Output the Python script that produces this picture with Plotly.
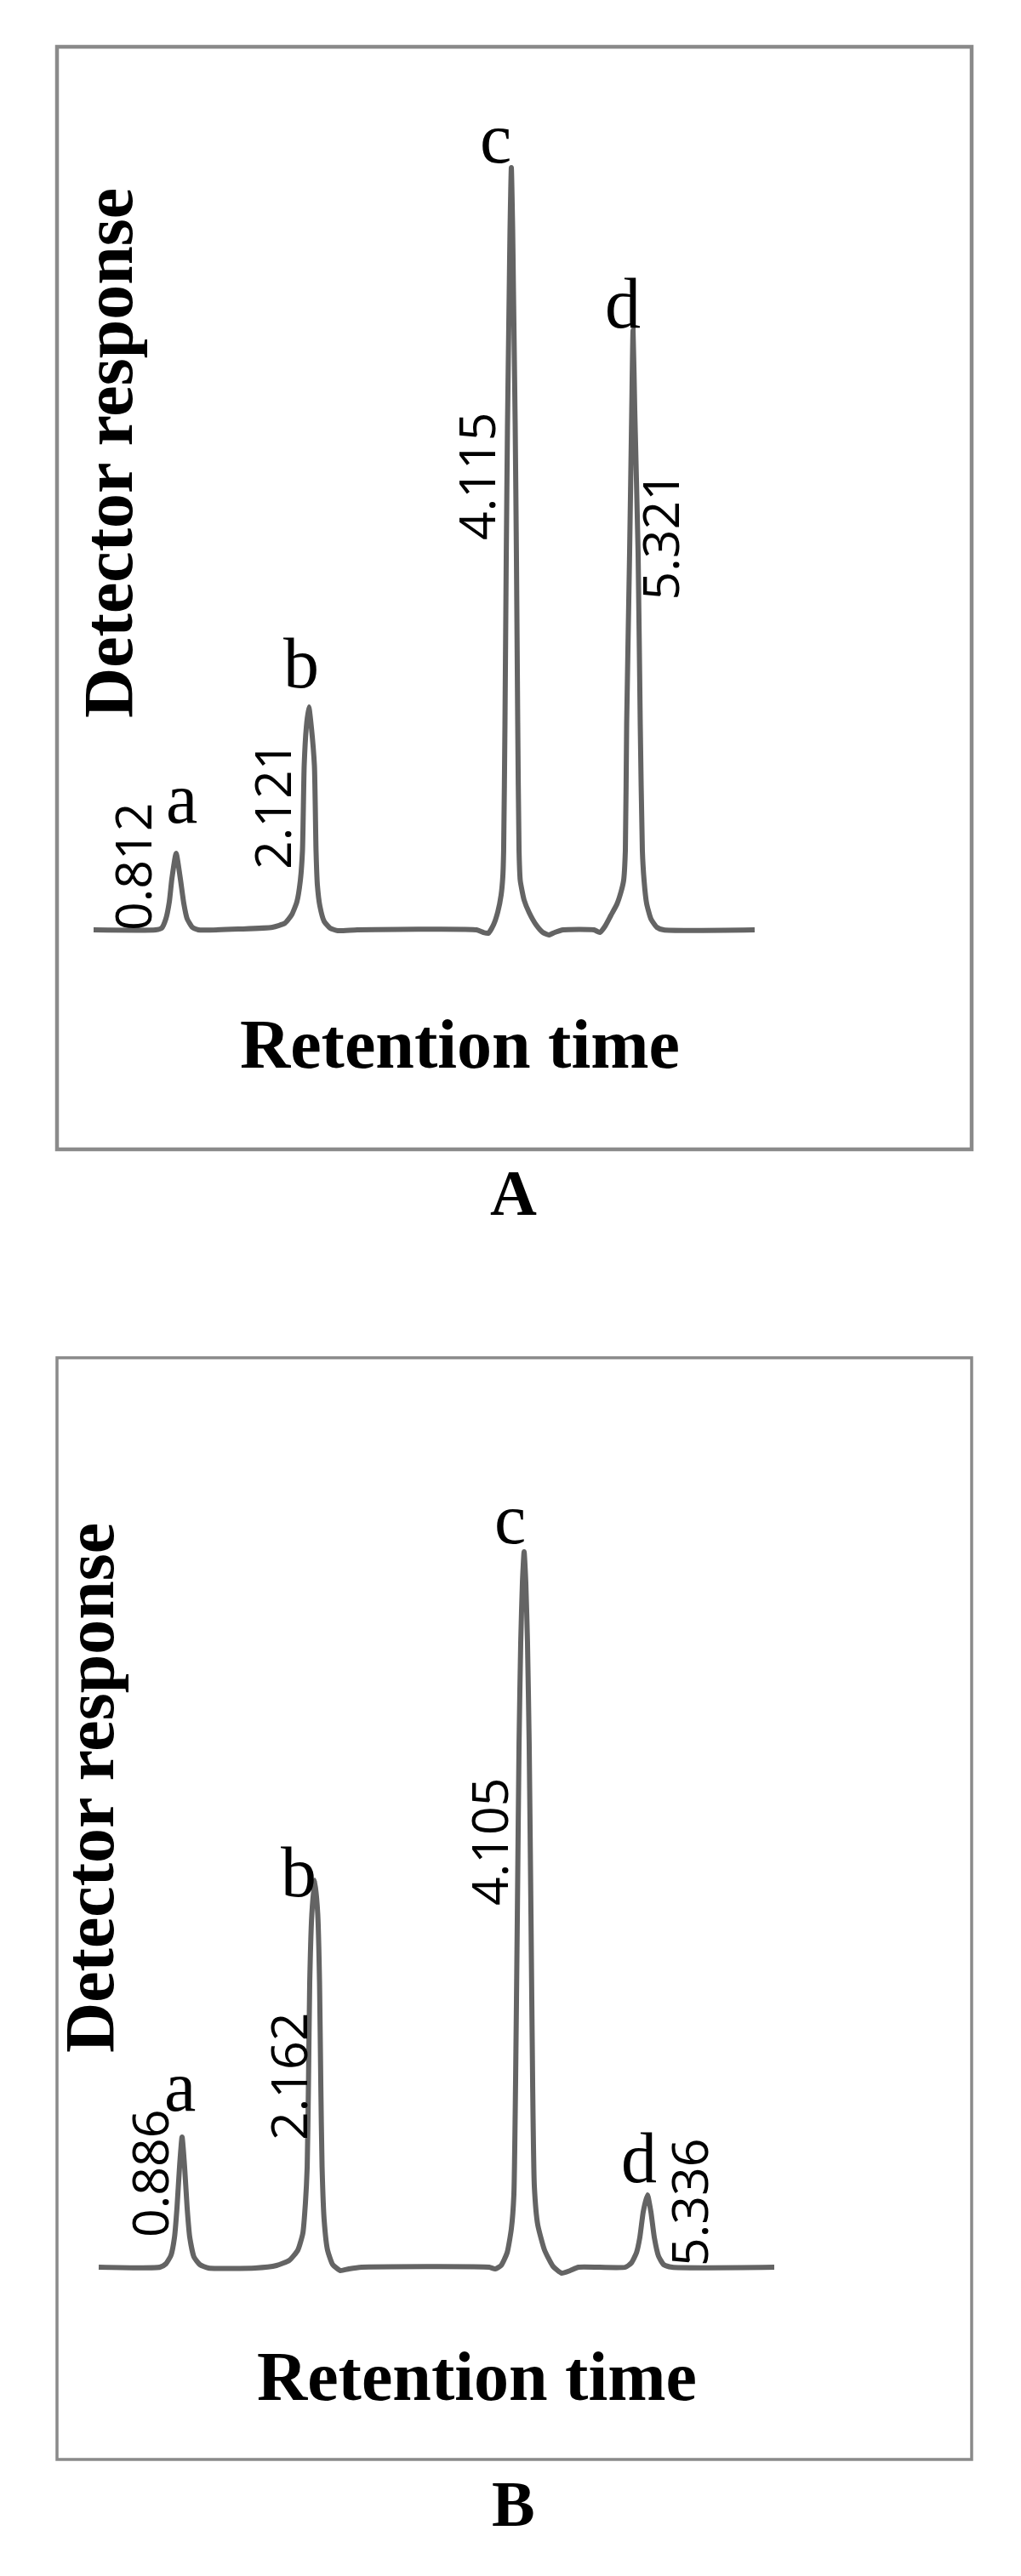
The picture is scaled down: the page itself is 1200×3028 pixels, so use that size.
import plotly.graph_objects as go

# ---------------- data ----------------
# Panel A chromatogram: retention time (min) vs detector response (a.u.)
time_A = [0.000, 0.613, 0.672, 0.714, 0.748, 0.773, 0.815, 0.857, 0.891, 0.924, 0.975, 1.034,
          1.454, 1.765, 1.891, 1.958, 2.008, 2.042, 2.063, 2.080, 2.101, 2.126, 2.151, 2.181,
          2.197, 2.210, 2.235, 2.277, 2.336, 2.412, 2.605, 3.782, 3.849, 3.899, 3.950, 3.992,
          4.025, 4.042, 4.050, 4.063, 4.076, 4.088, 4.105, 4.113, 4.126, 4.139, 4.147, 4.164,
          4.176, 4.189, 4.202, 4.214, 4.252, 4.303, 4.370, 4.437, 4.496, 4.555, 4.639, 4.941,
          5.000, 5.050, 5.109, 5.168, 5.210, 5.235, 5.252, 5.265, 5.294, 5.315, 5.328, 5.345,
          5.378, 5.399, 5.420, 5.437, 5.462, 5.504, 5.563, 5.630, 6.529]
resp_A = [0.0, 0.0, 0.2, 1.3, 3.3, 6.0, 9.0, 6.0, 3.1, 1.3, 0.3, 0.0,
          0.1, 0.3, 0.8, 1.8, 3.3, 5.8, 9.3, 19.3, 23.8, 26.2, 23.8, 19.3,
          9.3, 5.3, 2.8, 1.0, 0.2, -0.1, 0.0, 0.0, -0.3, -0.4, 0.6, 2.1,
          4.1, 6.3, 9.3, 24.3, 44.3, 59.3, 75.0, 82.3, 89.6, 82.3, 75.0, 59.3,
          44.3, 24.3, 9.3, 5.8, 3.5, 2.0, 0.6, -0.3, -0.6, -0.3, 0.0, 0.0,
          -0.3, 0.4, 1.7, 3.0, 4.5, 5.8, 9.3, 24.3, 44.3, 61.0, 70.5, 61.0,
          44.3, 24.3, 9.3, 5.8, 3.1, 1.3, 0.3, 0.0, 0.0]

# Panel B chromatogram
time_B = [0.097, 0.677, 0.734, 0.782, 0.815, 0.839, 0.863, 0.887, 0.911, 0.935, 0.960, 1.000,
          1.056, 1.137, 1.581, 1.782, 1.903, 1.984, 2.032, 2.056, 2.073, 2.085, 2.097, 2.117,
          2.145, 2.173, 2.190, 2.202, 2.214, 2.234, 2.266, 2.315, 2.387, 2.468, 2.589, 3.798,
          3.855, 3.911, 3.968, 4.008, 4.032, 4.048, 4.065, 4.081, 4.097, 4.113, 4.129, 4.145,
          4.161, 4.177, 4.194, 4.210, 4.226, 4.258, 4.323, 4.403, 4.484, 4.565, 4.645, 5.089,
          5.145, 5.194, 5.226, 5.258, 5.298, 5.331, 5.363, 5.403, 5.452, 5.532, 6.500]
resp_B = [0.0, 0.0, 0.4, 1.4, 3.5, 7.0, 11.8, 15.3, 11.8, 7.0, 3.5, 1.2,
          0.3, -0.1, -0.1, 0.2, 0.8, 2.0, 4.0, 7.5, 11.8, 21.5, 33.5, 41.5,
          45.5, 41.5, 33.5, 21.5, 11.8, 5.5, 2.0, 0.3, -0.4, -0.2, 0.0, 0.0,
          -0.2, 0.2, 1.7, 4.5, 8.5, 21.5, 41.5, 61.5, 73.5, 80.5, 84.1, 80.5,
          73.5, 61.5, 41.5, 21.5, 9.5, 5.0, 2.0, 0.1, -0.7, -0.4, 0.0, 0.0,
          0.5, 1.7, 3.5, 6.5, 8.5, 6.5, 3.5, 1.3, 0.3, 0.0, 0.0]

peak_letters = ["a", "b", "c", "d"]
rt_labels_A = ["0.812", "2.121", "4.115", "5.321"]
rt_labels_B = ["0.886", "2.162", "4.105", "5.336"]
x_title = "Retention time"
y_title = "Detector response"
panel_names = ["A", "B"]

# ---------------- page geometry (pixels of the 1200x3028 page) ----------------
W, H = 1200, 3028
OFF = 8                      # default body margin of the html page
FW, FH = W - 2 * OFF, H - 2 * OFF


def fx(x):
    return (x - OFF) / FW


def fy(y):
    return 1 - (y - OFF) / FH


# panel calibration: pixel of t=0, pixels per minute, baseline pixel, pixels per unit
CAL_A = dict(t0=110, ppm=119, base=1093, ppu=10, top=55, bottom=1351)
CAL_B = dict(t0=104, ppm=124, base=2665, ppu=10, top=1596, bottom=2891)
LEFT, RIGHT = 67, 1142


def ranges(c):
    xr = [(LEFT - c["t0"]) / c["ppm"], (RIGHT - c["t0"]) / c["ppm"]]
    yr = [(c["base"] - c["bottom"]) / c["ppu"], (c["base"] - c["top"]) / c["ppu"]]
    return xr, yr


xrA, yrA = ranges(CAL_A)
xrB, yrB = ranges(CAL_B)

LINE = dict(color="#646464", width=6, shape="spline", smoothing=0.5)

fig = go.Figure()
fig.add_trace(go.Scatter(x=time_A, y=resp_A, mode="lines", line=LINE,
                         xaxis="x", yaxis="y", hoverinfo="skip", showlegend=False))
fig.add_trace(go.Scatter(x=time_B, y=resp_B, mode="lines", line=LINE,
                         xaxis="x2", yaxis="y2", hoverinfo="skip", showlegend=False))

ax_common = dict(visible=False, showgrid=False, zeroline=False, fixedrange=True)
fig.update_layout(
    width=FW, height=FH,
    margin=dict(l=0, r=0, t=0, b=0),
    paper_bgcolor="white", plot_bgcolor="rgba(0,0,0,0)",
    xaxis=dict(domain=[fx(LEFT), fx(RIGHT)], range=xrA, anchor="y", **ax_common),
    yaxis=dict(domain=[fy(CAL_A["bottom"]), fy(CAL_A["top"])], range=yrA, anchor="x", **ax_common),
    xaxis2=dict(domain=[fx(LEFT), fx(RIGHT)], range=xrB, anchor="y2", **ax_common),
    yaxis2=dict(domain=[fy(CAL_B["bottom"]), fy(CAL_B["top"])], range=yrB, anchor="x2", **ax_common),
)

# panel frames
BOX_COLOR = "#8a8a8a"
for c, w in ((CAL_A, 4.5), (CAL_B, 3.5)):
    fig.add_shape(type="rect", xref="paper", yref="paper",
                  x0=fx(LEFT), x1=fx(RIGHT), y0=fy(c["bottom"]), y1=fy(c["top"]),
                  line=dict(color=BOX_COLOR, width=w), fillcolor="rgba(0,0,0,0)", layer="above")

SERIF = "Liberation Serif, Times New Roman, serif"
SANS = "Open Sans, Liberation Sans, sans-serif"


def note(text, x, y, size, family, bold=False, angle=0):
    t = f"<b>{text}</b>" if bold else text
    fig.add_annotation(text=t, x=fx(x), y=fy(y), xref="paper", yref="paper",
                       showarrow=False, xanchor="center", yanchor="middle",
                       textangle=angle, font=dict(family=family, size=size, color="black"))


# peak letters (pixel centres of the text boxes)
letter_px_A = [(213, 939), (354, 779), (582, 163), (732, 356)]
letter_px_B = [(211, 2452), (351, 2200), (599, 1785), (751, 2536)]
for lab, (x, y) in zip(peak_letters, letter_px_A):
    note(lab, x, y, 84, SERIF)
for lab, (x, y) in zip(peak_letters, letter_px_B):
    note(lab, x, y, 84, SERIF)

# retention-time labels (rotated)
rt_px_A = [(154.5, 1019.5), (318.5, 947.5), (559.5, 560.5), (774, 630.5)]
rt_px_B = [(175, 2555), (338, 2441), (574, 2165), (809, 2589)]
for lab, (x, y) in zip(rt_labels_A, rt_px_A):
    note(lab, x, y, 59, SANS, angle=-90)
for lab, (x, y) in zip(rt_labels_B, rt_px_B):
    note(lab, x, y, 59, SANS, angle=-90)

# axis titles and panel names
note(y_title, 127, 533, 82, SERIF, bold=True, angle=-90)
note(x_title, 540, 1227, 82, SERIF, bold=True)
note(panel_names[0], 603, 1402, 76, SERIF, bold=True)
note(y_title, 105, 2102, 82, SERIF, bold=True, angle=-90)
note(x_title, 560, 2793, 82, SERIF, bold=True)
note(panel_names[1], 603, 2943, 76, SERIF, bold=True)

fig.write_html("out.html")
